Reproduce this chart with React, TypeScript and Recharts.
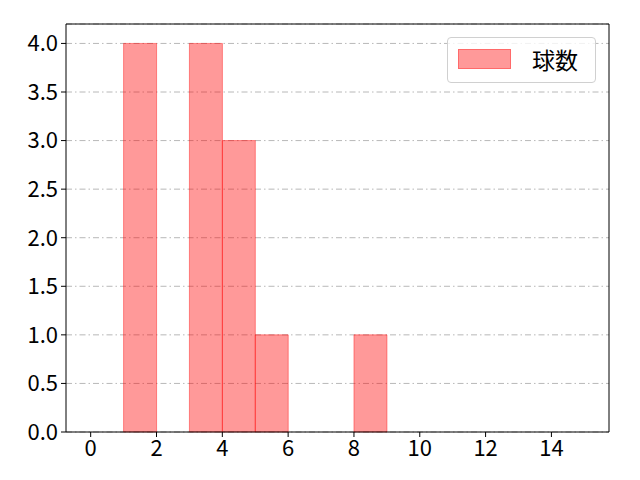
import { ComposedChart, Bar, XAxis, YAxis, CartesianGrid, ReferenceLine } from 'recharts';

const binStarts = [0, 1, 2, 3, 4, 5, 6, 7, 8, 9, 10, 11, 12, 13, 14];
const counts = [0, 4, 0, 4, 3, 1, 0, 0, 1, 0, 0, 0, 0, 0, 0];
const xTicks = [0, 2, 4, 6, 8, 10, 12, 14];
const yTicks = [0, 0.5, 1, 1.5, 2, 2.5, 3, 3.5, 4];
const seriesName = '球数';

const X_DOMAIN: [number, number] = [-0.75, 15.75];
const Y_DOMAIN: [number, number] = [0, 4.2];

const FONT = '"Noto Sans CJK JP", "Noto Sans", sans-serif';

const chartData = binStarts.map((start, i) => ({ mid: start + 0.5, count: counts[i] }));

const LegendBox = () => (
  <div
    style={{
      position: 'absolute',
      left: 447,
      top: 37,
      width: 149,
      height: 46,
      border: '1px solid #d0d0d0',
      borderRadius: 4,
      background: 'rgba(255,255,255,0.8)',
      boxSizing: 'border-box',
      fontFamily: FONT,
    }}
  >
    <div
      style={{
        position: 'absolute',
        left: 10,
        top: 11,
        width: 53,
        height: 20,
        background: 'rgba(255,0,0,0.4)',
        border: '1px solid rgba(255,0,0,0.3)',
        boxSizing: 'border-box',
      }}
    />
    <div style={{ position: 'absolute', left: 84, top: 5, fontSize: 23, lineHeight: '32px', color: '#000' }}>
      {seriesName}
    </div>
  </div>
);

const App = () => {
  return (
    <div style={{ margin: -8, width: 640, height: 480, background: '#fff', position: 'relative' }}>
      <ComposedChart
        width={640}
        height={480}
        data={chartData}
        margin={{ top: 24, right: 31, left: 0, bottom: 0 }}
        barCategoryGap={0}
        barGap={0}
        style={{ fontFamily: FONT }}
      >
        <CartesianGrid
          vertical={false}
          stroke="#b0b0b0"
          strokeDasharray="6 3 1.5 3"
          strokeWidth={0.9}
        />
        <XAxis
          dataKey="mid"
          type="number"
          domain={X_DOMAIN}
          allowDataOverflow
          ticks={xTicks}
          interval={0}
          height={48}
          tickSize={5}
          tickMargin={3}
          stroke="#000"
          tick={{ fill: '#000', fontSize: 22 }}
        />
        <YAxis
          type="number"
          domain={Y_DOMAIN}
          ticks={yTicks}
          interval={0}
          width={66}
          tickSize={5}
          tickMargin={3}
          stroke="#000"
          tickFormatter={(v: number) => v.toFixed(1)}
          tick={{ fill: '#000', fontSize: 22 }}
        />
        <Bar
          dataKey="count"
          name={seriesName}
          fill="#ff0000"
          fillOpacity={0.4}
          stroke="#ff0000"
          strokeOpacity={0.4}
          strokeWidth={1}
          isAnimationActive={false}
        />
        <ReferenceLine y={Y_DOMAIN[1]} stroke="#000" strokeWidth={1} />
        <ReferenceLine x={X_DOMAIN[1]} stroke="#000" strokeWidth={1} />
      </ComposedChart>
      <LegendBox />
    </div>
  );
};

export default App;
